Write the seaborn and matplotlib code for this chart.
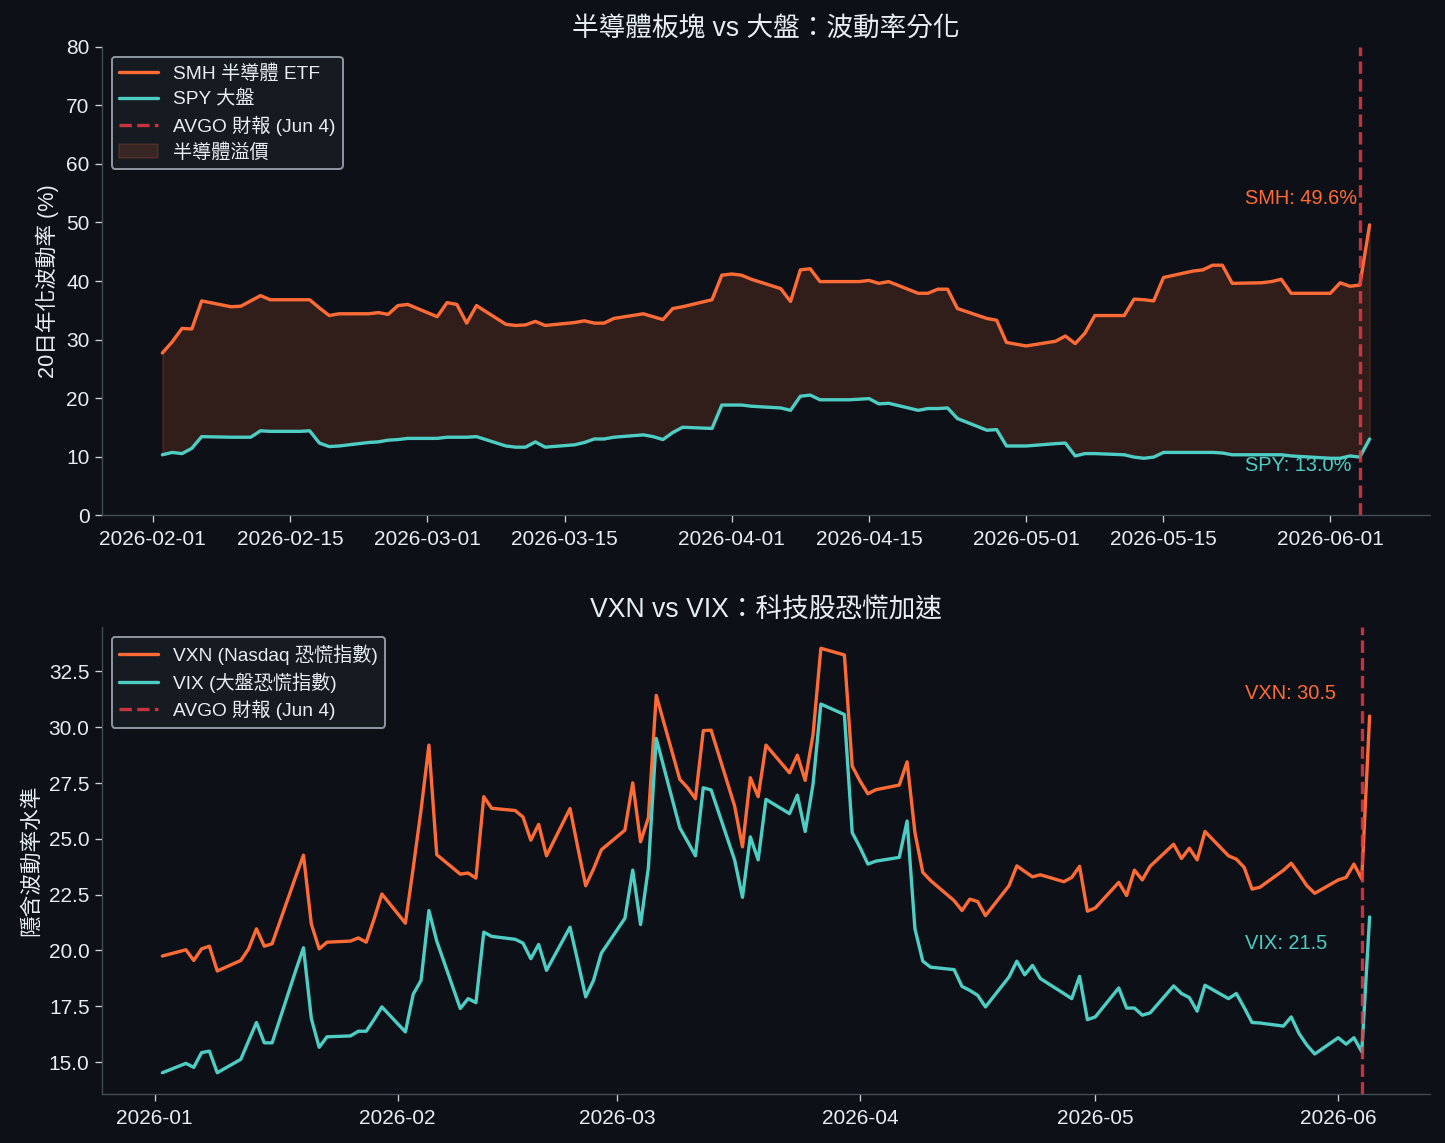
import matplotlib
matplotlib.use('Agg')
import matplotlib.pyplot as plt
import seaborn as sns
import pandas as pd

BG = '#0d1117'
FG = '#e6edf3'
ORANGE = '#ff6b35'
TEAL = '#4ecdc4'
RED = '#e63946'

sns.set_style('dark', rc={
    'figure.facecolor': BG, 'axes.facecolor': BG, 'axes.edgecolor': '#444c56',
    'axes.labelcolor': FG, 'text.color': FG,
    'xtick.color': '#c9d1d9', 'ytick.color': '#c9d1d9',
    'xtick.bottom': True, 'ytick.left': True,
    'axes.spines.top': False, 'axes.spines.right': False,
})
plt.rcParams['font.family'] = ['Liberation Sans', 'Noto Sans CJK TC', 'DejaVu Sans']
plt.rcParams['axes.unicode_minus'] = False

# ---- panel 1: 20-day realised vol, business days Feb 2 - Jun 5 ----
vol_dates = pd.bdate_range('2026-02-02', '2026-06-05')
smh_vol = [27.7, 29.6, 31.9, 31.8, 36.6, 35.6, 35.7, 36.6, 37.5, 36.8,
           36.8, 36.8, 35.4, 34.1, 34.4, 34.4, 34.6, 34.3, 35.8, 36.0,
           33.9, 36.3, 36.0, 32.8, 35.8, 32.6, 32.4, 32.5, 33.1, 32.4,
           32.9, 33.2, 32.8, 32.8, 33.6, 34.4, 33.9, 33.4, 35.3, 35.6,
           36.8, 41.0,
           41.2, 41.0, 40.3, 38.7, 36.5, 41.9, 42.1, 39.9, 39.9, 39.9,
           40.1, 39.6, 39.9, 37.9, 37.9, 38.6, 38.6, 35.3, 33.6, 33.3,
           29.5, 29.2,
           28.9, 29.7, 30.6, 29.3, 31.1, 34.1, 34.1, 36.9, 36.8, 36.6,
           40.6, 41.7, 41.9, 42.7, 42.7, 39.6, 39.7, 39.9, 40.3, 37.9,
           37.9,
           37.9, 39.7, 39.1, 39.3, 49.6]
spy_vol = [10.3, 10.7, 10.5, 11.4, 13.4, 13.3, 13.3, 13.3, 14.4, 14.3,
           14.3, 14.4, 12.3, 11.7, 11.8, 12.4, 12.5, 12.8, 12.9, 13.1,
           13.1, 13.3, 13.3, 13.3, 13.4, 11.8, 11.6, 11.6, 12.5, 11.6,
           12.0, 12.4, 13.0, 13.0, 13.3, 13.7, 13.4, 12.9, 14.1, 15.0,
           14.8, 18.8,
           18.8, 18.8, 18.6, 18.3, 17.9, 20.3, 20.5, 19.7, 19.7, 19.8,
           19.9, 19.0, 19.1, 17.9, 18.2, 18.2, 18.3, 16.5, 14.5, 14.6,
           11.8, 11.8,
           11.8, 12.2, 12.3, 10.1, 10.5, 10.5, 10.3, 9.9, 9.7, 9.9,
           10.7, 10.7, 10.7, 10.7, 10.6, 10.3, 10.3, 10.3, 10.3, 10.1,
           10.0,
           9.7, 9.7, 10.1, 9.9, 13.0]

# ---- panel 2: implied vol indices, business days Jan 2 - Jun 5 ----
iv_dates = pd.bdate_range('2026-01-02', '2026-06-05')
vxn = [19.75, 20.03, 19.55, 20.07, 20.19, 19.08, 19.55, 20.07, 20.97, 20.19,
       20.30, 23.30, 24.27, 21.19, 20.07, 20.37, 20.42, 20.56, 20.37, 21.40,
       22.53,
       21.22, 23.70, 26.30, 29.20, 24.29, 23.42, 23.47, 23.24, 26.89, 26.37,
       26.27, 25.98, 24.94, 25.65, 24.24, 26.36, 24.60, 22.90, 23.65, 24.51,
       25.39, 27.51, 24.87, 25.95, 31.43, 27.67, 27.29, 26.80, 29.85, 29.87,
       26.47, 24.64, 27.74, 26.89, 29.20, 27.96, 28.75, 27.62, 29.67, 33.54,
       33.24, 28.26,
       27.59, 27.02, 27.20, 27.41, 28.45, 25.28, 23.50, 23.13, 22.23, 21.79,
       22.30, 22.19, 21.56, 22.90, 23.79, 23.54, 23.30, 23.39, 23.08, 23.27,
       23.77, 21.76,
       21.90, 23.05, 22.46, 23.60, 23.16, 23.77, 24.76, 24.12, 24.58, 24.06,
       25.33, 24.24, 24.09, 23.72, 22.75, 22.83, 23.59, 23.91, 23.42, 22.90,
       22.56,
       23.16, 23.27, 23.87, 23.20, 30.50]
vix = [14.52, 14.94, 14.76, 15.42, 15.49, 14.52, 15.12, 15.95, 16.77, 15.86,
       15.86, 19.09, 20.12, 16.95, 15.66, 16.13, 16.17, 16.38, 16.38, 16.90,
       17.47,
       16.35, 18.04, 18.66, 21.79, 20.42, 17.40, 17.84, 17.66, 20.82, 20.63,
       20.50, 20.33, 19.63, 20.27, 19.11, 21.04, 19.50, 17.92, 18.66, 19.88,
       21.44, 23.60, 21.16, 23.72, 29.50, 25.50, 24.88, 24.24, 27.29, 27.19,
       24.05, 22.38, 25.09, 24.06, 26.77, 26.13, 26.96, 25.33, 27.44, 31.04,
       30.57, 25.28,
       24.61, 23.87, 24.00, 24.17, 25.80, 20.97, 19.52, 19.25, 19.14, 18.39,
       18.21, 17.99, 17.47, 18.81, 19.52, 18.91, 19.33, 18.74, 18.07, 17.84,
       18.84, 16.90,
       17.02, 18.32, 17.42, 17.42, 17.10, 17.20, 18.41, 18.07, 17.89, 17.28,
       18.44, 17.84, 18.07, 17.44, 16.77, 16.75, 16.61, 17.02, 16.28, 15.76,
       15.36,
       16.09, 15.80, 16.09, 15.46, 21.50]

event_date = pd.Timestamp('2026-06-04')

fig = plt.figure(figsize=(1445 / 120, 1143 / 120), dpi=120)
ax1 = fig.add_axes([0.0706, 0.5494, 0.919, 0.4095])
ax2 = fig.add_axes([0.0706, 0.0429, 0.919, 0.4085])

# top
sns.lineplot(x=vol_dates, y=smh_vol, ax=ax1, color=ORANGE, linewidth=2,
             label='SMH 半導體 ETF')
sns.lineplot(x=vol_dates, y=spy_vol, ax=ax1, color=TEAL, linewidth=2,
             label='SPY 大盤')
ax1.axvline(event_date, color=RED, linestyle='--', linewidth=2, alpha=0.85,
            label='AVGO 財報 (Jun 4)')
ax1.fill_between(vol_dates, smh_vol, spy_vol, color=ORANGE, alpha=0.15,
                 label='半導體溢價')
ax1.set_ylim(0, 80)
ax1.set_title('半導體板塊 vs 大盤：波動率分化', fontsize=16, color=FG)
ax1.set_ylabel('20日年化波動率 (%)', fontsize=13)
ax1.annotate(f'SMH: {smh_vol[-1]:.1f}%', (vol_dates[-1], smh_vol[-1]),
             xytext=(-75, 10), textcoords='offset points', ha='left',
             va='bottom', color=ORANGE, fontsize=12)
ax1.annotate(f'SPY: {spy_vol[-1]:.1f}%', (vol_dates[-1], spy_vol[-1]),
             xytext=(-75, -10), textcoords='offset points', ha='left',
             va='top', color=TEAL, fontsize=12)

# bottom
sns.lineplot(x=iv_dates, y=vxn, ax=ax2, color=ORANGE, linewidth=2,
             label='VXN (Nasdaq 恐慌指數)')
sns.lineplot(x=iv_dates, y=vix, ax=ax2, color=TEAL, linewidth=2,
             label='VIX (大盤恐慌指數)')
ax2.axvline(event_date, color=RED, linestyle='--', linewidth=2, alpha=0.85,
            label='AVGO 財報 (Jun 4)')
ax2.set_title('VXN vs VIX：科技股恐慌加速', fontsize=16, color=FG)
ax2.set_ylabel('隱含波動率水準', fontsize=13)
ax2.annotate(f'VXN: {vxn[-1]:.1f}', (iv_dates[-1], vxn[-1]),
             xytext=(-75, 8), textcoords='offset points', ha='left',
             va='bottom', color=ORANGE, fontsize=12)
ax2.annotate(f'VIX: {vix[-1]:.1f}', (iv_dates[-1], vix[-1]),
             xytext=(-75, -10), textcoords='offset points', ha='left',
             va='top', color=TEAL, fontsize=12)

for ax in (ax1, ax2):
    ax.set_xlabel('')
    ax.tick_params(labelsize=12.5, labelcolor=FG, length=4)
    ax.tick_params(axis='x', pad=5)
    ax.grid(False)
    leg = ax.legend(loc='upper left', fontsize=11.5, facecolor='#161b22',
                    edgecolor='#8b949e', labelcolor=FG, framealpha=1,
                    labelspacing=0.38)
    leg.get_frame().set_linewidth(1.2)

fig.savefig('out.png', dpi=120, facecolor=BG)
